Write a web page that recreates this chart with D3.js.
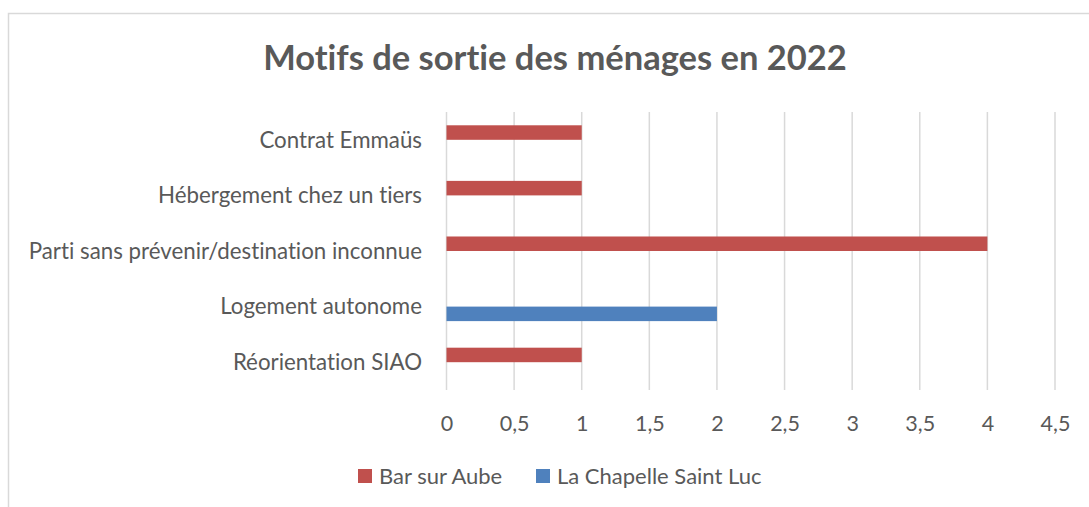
<!DOCTYPE html>
<html lang="fr">
<head>
  <meta charset="UTF-8">
  <title>Motifs de sortie des ménages en 2022</title>
  <script src="https://cdn.jsdelivr.net/npm/d3@7"></script>
  <style>
    body { margin: 0; background: #fff; }
    text { font-family: Lato, "Open Sans", sans-serif; fill: #595959; font-variant-ligatures: none; }
  </style>
</head>
<body>
<svg id="chart"></svg>
<script>
  // données
  var categories = ["Contrat Emmaüs", "Hébergement chez un tiers", "Parti sans prévenir/destination inconnue", "Logement autonome", "Réorientation SIAO"];
  var series = ["Bar sur Aube", "La Chapelle Saint Luc"];
  var barSurAube = [1, 1, 4, 0, 1];
  var laChapelle = [0, 0, 0, 2, 0];
  var ticks = [0, 0.5, 1, 1.5, 2, 2.5, 3, 3.5, 4, 4.5];
  var colors = ["#C0504D", "#4F81BD"];

  var width = 1089, height = 507;
  var svg = d3.select("#chart").attr("width", width).attr("height", height);

  // cadre
  svg.append("rect")
      .attr("x", 8.5).attr("y", 13.5)
      .attr("width", 1100).attr("height", 520)
      .attr("fill", "none").attr("stroke", "#D9D9D9").attr("stroke-width", 1.5);

  svg.append("text")
      .attr("x", 555).attr("y", 70)
      .attr("text-anchor", "middle")
      .style("font-size", "34.5px").style("font-weight", "bold")
      .text("Motifs de sortie des ménages en 2022");

  var x = d3.scaleLinear().domain([0, 4.5]).range([446.5, 1055]);
  var y0 = d3.scaleBand().domain(categories).range([112, 390]).paddingInner(0.478).paddingOuter(0.239);
  var y1 = d3.scaleBand().domain(series).range([0, y0.bandwidth()]);

  // grille
  svg.append("g").selectAll("line").data(ticks).enter().append("line")
      .attr("x1", d => x(d)).attr("x2", d => x(d))
      .attr("y1", 112).attr("y2", 390)
      .attr("stroke", "#D9D9D9").attr("stroke-width", 1.5);

  // axe
  var axis = svg.append("g").attr("transform", "translate(0,390)")
      .call(d3.axisBottom(x).tickValues(ticks).tickSize(0).tickPadding(26)
          .tickFormat(d => String(d).replace(".", ",")));
  axis.select(".domain").remove();
  axis.selectAll("text").style("font-size", "21.5px").attr("fill", "#595959");

  // barres
  var rows = categories.map((c, i) => ({cat: c, values: [barSurAube[i], laChapelle[i]]}));
  var grp = svg.append("g").selectAll("g").data(rows).enter().append("g")
      .attr("transform", d => "translate(0," + y0(d.cat) + ")");
  grp.selectAll("rect").data(d => d.values.map((v, j) => ({s: series[j], v: v, j: j})).filter(e => e.v > 0))
      .enter().append("rect")
      .attr("x", x(0)).attr("y", d => y1(d.s))
      .attr("width", d => x(d.v) - x(0)).attr("height", y1.bandwidth())
      .attr("fill", d => colors[d.j]);

  // libellés
  svg.append("g").selectAll("text").data(categories).enter().append("text")
      .attr("x", 422).attr("y", d => y0(d) + y0.bandwidth() / 2)
      .attr("dy", "0.35em").attr("text-anchor", "end")
      .style("font-size", "22.3px")
      .text(d => d);

  // légende
  var legendX = [358, 536];
  var leg = svg.append("g").selectAll("g").data(series).enter().append("g")
      .attr("transform", (d, i) => "translate(" + legendX[i] + ",469)");
  leg.append("rect").attr("width", 14).attr("height", 14).attr("fill", (d, i) => colors[i]);
  leg.append("text").attr("x", 21).attr("y", 7).attr("dy", "0.35em")
      .style("font-size", "22px").text(d => d);
</script>
</body>
</html>
